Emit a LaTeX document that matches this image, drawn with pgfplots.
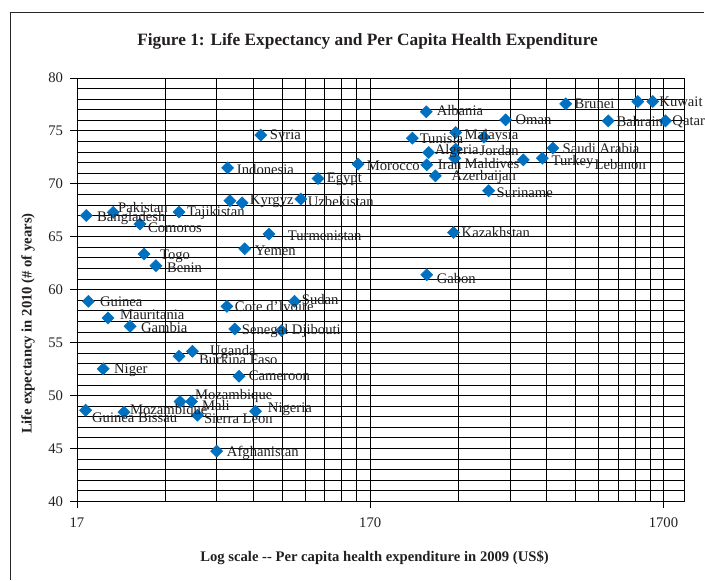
\documentclass[border=0pt]{standalone}
\usepackage{pgfplots}
\pgfplotsset{compat=1.18}
\usepackage{fontspec}
\setmainfont{Liberation Serif}
\definecolor{mblue}{RGB}{0,112,192}
\definecolor{txt}{RGB}{35,31,32}
\pgfplotstableread{
x y
72.0 74.6
55.5 71.5
112.9 70.5
56.5 68.4
62.2 68.2
98.6 68.56
18.3 67.0
22.6 67.3
27.9 66.2
37.9 67.33
76.8 65.25
63.5 63.87
28.8 63.37
31.6 62.26
154.5 71.86
264 76.8
492 76.04
789 77.55
1390 77.77
1563 77.77
1102 75.94
1727 75.94
236.7 74.31
332.5 74.84
415 74.4
269 72.95
332.5 73.27
265 71.79
330 72.42
565.6 72.26
656.5 72.42
713.5 73.37
283.6 70.75
430.7 69.34
327 65.4
265 61.4
18.6 58.9
21.7 57.33
25.8 56.54
55.2 58.42
93.8 58.9
58.7 56.29
84.7 56.13
42.1 54.18
37.9 53.71
20.9 52.52
60.7 51.82
38.2 49.43
41.8 49.43
24.6 48.43
18.2 48.61
43.8 48.14
69.1 48.52
50.9 44.75
}\datatable
\begin{document}
\begin{tikzpicture}
\begin{scope}[x=0.75pt,y=-0.75pt]
\useasboundingbox (0,0) rectangle (705,581);
\draw[line width=0.75pt, black!85] (11,581) -- (11,13) -- (705,13);
\end{scope}
\begin{axis}[
  at={(57.75pt,-376.5pt)}, anchor=south west,
  scale only axis, width=456pt, height=318pt,
  xmode=log, xmin=17, xmax=2000, ymin=40, ymax=80,
  xtick={17,170,1700}, xticklabels={17,170,1700},
  minor xtick={34,51,68,85,102,119,136,153,340,510,680,850,1020,1190,1360,1530},
  ytick={40,45,...,80}, minor y tick num=4,
  grid=both,
  major grid style={black, line width=0.6pt},
  minor grid style={black, line width=0.6pt},
  axis line style={black, line width=0.6pt},
  tick align=outside, major tick length=5pt, minor tick length=0pt,
  tick style={black, line width=0.6pt},
  xtick pos=bottom, ytick pos=left,
  ticklabel style={font=\fontsize{11}{13}\selectfont, text=txt},
  xticklabel style={yshift=-4pt},
  yticklabel style={xshift=-2pt},
  /pgf/number format/assume math mode=true,
]
\addplot[only marks, mark=square*, mark size=3.2pt, color=mblue,
  mark options={rotate=45, fill=mblue, draw=mblue}] table[x=x,y=y] {\datatable};
\end{axis}
\begin{scope}[x=0.75pt,y=-0.75pt, every node/.style={anchor=west, inner sep=0pt, text=txt, font=\fontsize{11}{13}\selectfont}]
\node at (270,136) {Syria};
\node at (237,170) {Indonesia};
\node at (327,179) {Egypt};
\node at (250,202) {Kyrgyz};
\node at (308,202) {Uzbekistan};
\node at (118,208) {Pakistan};
\node at (97,218) {Bangladesh};
\node at (148,228) {Comoros};
\node at (187,213) {Tajikistan};
\node at (288,236) {Turmenistan};
\node at (255,251) {Yemen};
\node at (160,257) {Togo};
\node at (167,268) {Benin};
\node at (367,166) {Morocco};
\node at (437,111) {Albania};
\node at (516,120) {Oman};
\node at (575,104) {Brunei};
\node at (660,102) {Kuwait};
\node at (617,122) {Bahrain};
\node at (673,122) {Qatar};
\node at (420,139) {Tunisia};
\node at (465,136) {Malaysia};
\node at (435,151) {Algeria};
\node at (480,151) {Jordan};
\node at (438,165) {Iran};
\node at (465,164) {Maldives};
\node at (552,162) {Turkey};
\node at (595,165) {Lebanon};
\node at (563,149) {Saudi Arabia};
\node at (452,177) {Azerbaijan};
\node at (497,193) {Suriname};
\node at (462,233) {Kazakhstan};
\node at (437,279) {Gabon};
\node at (100,302) {Guinea};
\node at (120,315) {Mauritania};
\node at (141,328) {Gambia};
\node at (235,307) {Cote d'Ivoire};
\node at (302,300) {Sudan};
\node at (242,331) {Senegal};
\node at (292,331) {Djibouti};
\node at (210,352) {Uganda};
\node at (199,360) {Burkina Faso};
\node at (114,371) {Niger};
\node at (249,376) {Cameroon};
\node at (195,396) {Mozambique};
\node at (202,406) {Mali};
\node at (130,411) {Mozambique};
\node at (92,418) {Guinea Bissau};
\node at (204,419) {Sierra Leon};
\node at (268,410) {Nigeria};
\node at (227,453) {Afghanistan};
\node[anchor=center, font=\bfseries\fontsize{13}{15}\selectfont] at (368,41) {Figure 1: Life Expectancy and Per Capita Health Expenditure};
\node[anchor=center, font=\bfseries\fontsize{11}{13}\selectfont] at (375,558) {Log scale -{}- Per capita health expenditure in 2009 (US\$)};
\node[anchor=center, rotate=90, font=\bfseries\fontsize{11}{13}\selectfont] at (28,324) {Life expectancy in 2010 (\# of years)};
\end{scope}
\end{tikzpicture}
\end{document}
